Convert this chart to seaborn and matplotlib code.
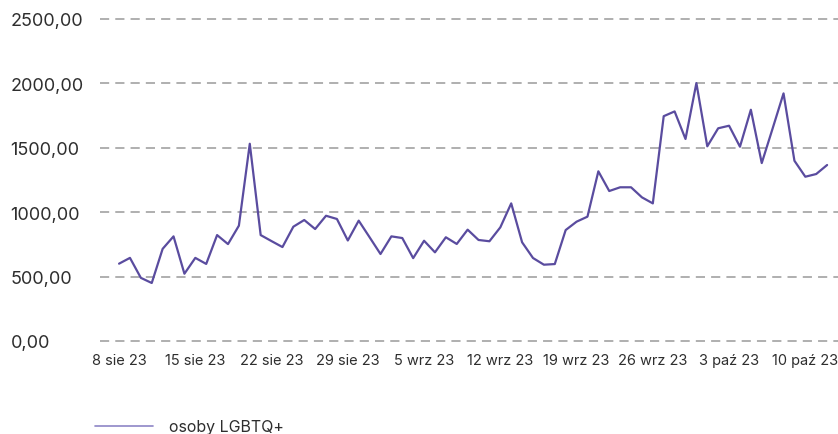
import matplotlib
matplotlib.use("Agg")
import matplotlib.pyplot as plt
import seaborn as sns
import pandas as pd
from matplotlib.lines import Line2D

# ---- data ----
start_date = "2023-08-08"
values = [600, 645, 490, 450, 715, 812, 522, 645, 598, 822,
          752, 895, 1531, 822, 775, 729, 887, 939, 869, 972,
          947, 780, 934, 805, 675, 812, 799, 643, 778, 688,
          805, 753, 864, 784, 774, 882, 1068, 766, 644, 592,
          597, 861, 926, 965, 1317, 1164, 1193, 1193, 1115, 1068,
          1745, 1782, 1568, 2002, 1511, 1651, 1671, 1508, 1795, 1381,
          1650, 1922, 1399, 1275, 1296, 1366]
series_name = "osoby LGBTQ+"
tick_labels = ["8 sie 23", "15 sie 23", "22 sie 23", "29 sie 23", "5 wrz 23",
               "12 wrz 23", "19 wrz 23", "26 wrz 23", "3 paź 23", "10 paź 23"]
y_ticks = [0, 500, 1000, 1500, 2000, 2500]
y_tick_labels = ["0,00", "500,00", "1000,00", "1500,00", "2000,00", "2500,00"]

dates = pd.date_range(start_date, periods=len(values), freq="D")
df = pd.DataFrame({"data": dates, "wartosc": values, "seria": series_name})

sns.set_theme(style="white")
plt.rcParams["font.family"] = ["Inter", "DejaVu Sans"]

line_color = "#5a4c9f"
text_color = "#2e2e2e"

fig = plt.figure(figsize=(8.38, 4.35), dpi=100)
ax = fig.add_axes([100 / 838, 86.6 / 435, 738 / 838, 0.7699])

sns.lineplot(data=df, x="data", y="wartosc", color=line_color, linewidth=1.6,
             ax=ax, legend=False)

ax.set_ylim(-50, 2550)
x0 = dates[0] - pd.Timedelta(days=1.75)
x1 = dates[0] + pd.Timedelta(days=66)
ax.set_xlim(x0, x1)

ax.set_yticks(y_ticks)
ax.set_yticklabels(y_tick_labels, ha="left", color=text_color, fontsize=13)
ax.tick_params(axis="y", pad=64.5, length=0)

xt = dates[::7][:len(tick_labels)]
ax.set_xticks(xt)
ax.set_xticklabels(tick_labels, color=text_color, fontsize=10.5)
ax.tick_params(axis="x", pad=4, length=0)

ax.grid(axis="y", color="#9a9a9a", linestyle=(0, (6, 4)), linewidth=1.1)
ax.grid(axis="x", visible=False)
for s in ax.spines.values():
    s.set_visible(False)
ax.set_xlabel("")
ax.set_ylabel("")

handle = Line2D([], [], color="#8d85c6", linewidth=1.2)
fig.legend([handle], [series_name], loc="center left",
           bbox_to_anchor=(95 / 838, 1 - 428 / 435), frameon=False,
           borderpad=0, borderaxespad=0, handlelength=3.6, handletextpad=1.05,
           prop={"size": 11.5}, labelcolor=text_color)

fig.savefig("out.png", dpi=100)
